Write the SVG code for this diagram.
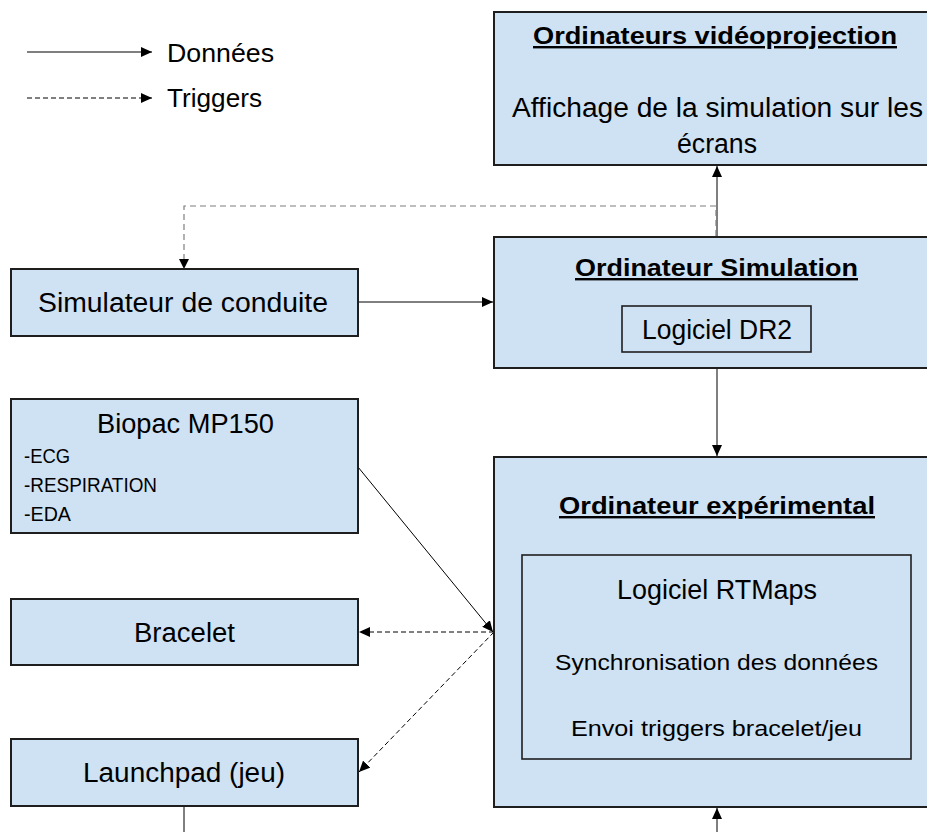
<svg xmlns="http://www.w3.org/2000/svg" width="927" height="832" viewBox="0 0 927 832">
<style>
.box{fill:#cfe2f3;stroke:#1e1e1e;stroke-width:2}
.inner{fill:none;stroke:#1e1e1e;stroke-width:1.6}
text{font-family:"Liberation Sans",Arial,sans-serif;fill:#000}
.t{font-size:27px}
.h{font-size:24px;font-weight:bold;text-decoration:underline}
.s{font-size:22px}
.l{font-size:20px}
.lg{font-size:25px}
.c{fill:none;stroke:#000;stroke-width:1}
.d{fill:none;stroke:#000;stroke-width:1;stroke-dasharray:5,3}
.dg{fill:none;stroke:#7f7f7f;stroke-width:1.2;stroke-dasharray:6,4}
</style>
<defs>
<marker id="ah" markerWidth="12" markerHeight="10" refX="11" refY="5" orient="auto" markerUnits="userSpaceOnUse">
<path d="M0,0 L11,5 L0,10 Z" fill="#000"/>
</marker>
</defs>
<rect width="927" height="832" fill="#fff"/>

<g id="legend">
<line class="c" x1="27" y1="52" x2="152" y2="52" marker-end="url(#ah)"/>
<text class="lg" x="167" y="62" textLength="107" lengthAdjust="spacingAndGlyphs">Données</text>
<line class="d" x1="27" y1="98" x2="152" y2="98" marker-end="url(#ah)"/>
<text class="lg" x="167" y="107" textLength="95" lengthAdjust="spacingAndGlyphs">Triggers</text>
</g>

<g id="connectors">
<line class="c" x1="717" y1="237" x2="717" y2="166" marker-end="url(#ah)"/>
<path class="dg" d="M716,236 V206 H184 V259"/>
<path d="M179,259 L189,259 L184,269 Z" fill="#000"/>
<line class="c" x1="358" y1="302" x2="493" y2="302" marker-end="url(#ah)"/>
<line class="c" x1="717" y1="368" x2="717" y2="456" marker-end="url(#ah)"/>
<line class="c" x1="358" y1="467" x2="493" y2="632" marker-end="url(#ah)"/>
<line class="d" x1="494" y1="632" x2="359" y2="632" marker-end="url(#ah)"/>
<line class="d" x1="494" y1="632" x2="359" y2="772" marker-end="url(#ah)"/>
<line class="c" x1="184" y1="806" x2="184" y2="832"/>
<line class="c" x1="717" y1="832" x2="717" y2="808" marker-end="url(#ah)"/>
</g>

<g id="videoprojection">
<rect class="box" x="494" y="12" width="440" height="153"/>
<text class="h" x="533" y="44" textLength="364" lengthAdjust="spacingAndGlyphs">Ordinateurs vidéoprojection</text>
<text class="t" x="512" y="117" textLength="411" lengthAdjust="spacingAndGlyphs">Affichage de la simulation sur les</text>
<text class="t" x="677" y="153" textLength="80" lengthAdjust="spacingAndGlyphs">écrans</text>
</g>

<g id="simulation">
<rect class="box" x="494" y="237" width="440" height="131"/>
<text class="h" x="575" y="276" textLength="283" lengthAdjust="spacingAndGlyphs">Ordinateur Simulation</text>
<rect class="inner" x="622" y="306" width="189" height="46"/>
<text class="t" x="642" y="339" textLength="150" lengthAdjust="spacingAndGlyphs">Logiciel DR2</text>
</g>

<g id="experimental">
<rect class="box" x="494" y="457" width="440" height="350"/>
<text class="h" x="559" y="514" textLength="316" lengthAdjust="spacingAndGlyphs">Ordinateur expérimental</text>
<rect class="inner" x="522" y="555" width="389" height="204"/>
<text class="t" x="617" y="599" textLength="200" lengthAdjust="spacingAndGlyphs">Logiciel RTMaps</text>
<text class="s" x="555" y="670" textLength="323" lengthAdjust="spacingAndGlyphs">Synchronisation des données</text>
<text class="s" x="571" y="736" textLength="291" lengthAdjust="spacingAndGlyphs">Envoi triggers bracelet/jeu</text>
</g>

<g id="simulateur">
<rect class="box" x="11" y="269" width="347" height="67"/>
<text class="t" x="38" y="312" textLength="290" lengthAdjust="spacingAndGlyphs">Simulateur de conduite</text>
</g>

<g id="biopac">
<rect class="box" x="11" y="399" width="347" height="134"/>
<text class="t" x="97" y="433" textLength="177" lengthAdjust="spacingAndGlyphs">Biopac MP150</text>
<text class="l" x="24" y="463" textLength="46" lengthAdjust="spacingAndGlyphs">-ECG</text>
<text class="l" x="24" y="492" textLength="133" lengthAdjust="spacingAndGlyphs">-RESPIRATION</text>
<text class="l" x="24" y="521" textLength="47" lengthAdjust="spacingAndGlyphs">-EDA</text>
</g>

<g id="bracelet">
<rect class="box" x="11" y="599" width="347" height="66"/>
<text class="t" x="134" y="642" textLength="101" lengthAdjust="spacingAndGlyphs">Bracelet</text>
</g>

<g id="launchpad">
<rect class="box" x="11" y="739" width="347" height="67"/>
<text class="t" x="83" y="782" textLength="202" lengthAdjust="spacingAndGlyphs">Launchpad (jeu)</text>
</g>
</svg>
